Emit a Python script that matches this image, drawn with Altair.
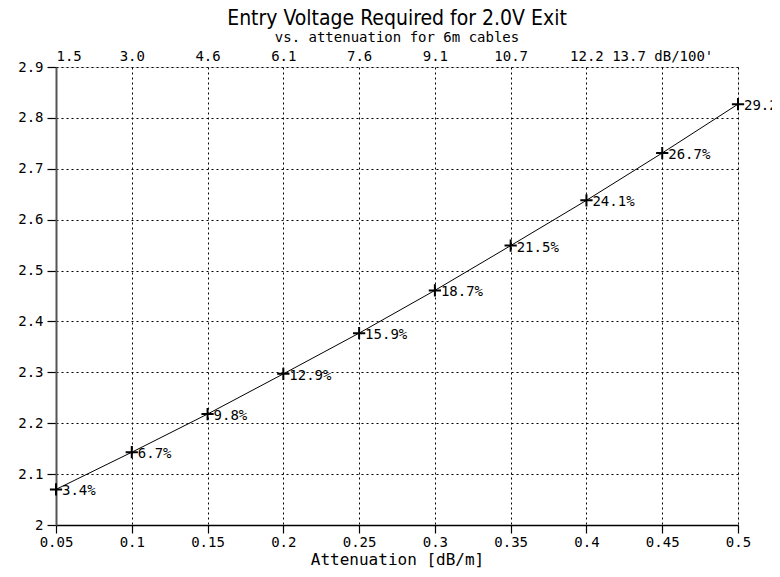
import altair as alt
import pandas as pd

# data
attenuation = [0.05, 0.10, 0.15, 0.20, 0.25, 0.30, 0.35, 0.40, 0.45, 0.50]
entry_voltage = [2.070, 2.143, 2.218, 2.297, 2.377, 2.461, 2.549, 2.638, 2.731, 2.827]
loss_labels = ["3.4%", "6.7%", "9.8%", "12.9%", "15.9%", "18.7%", "21.5%", "24.1%", "26.7%", "29.2%"]
x_ticks = [0.05, 0.10, 0.15, 0.20, 0.25, 0.30, 0.35, 0.40, 0.45, 0.50]
top_ticks = [0.05, 0.10, 0.15, 0.20, 0.25, 0.30, 0.35, 0.40, 0.45]
top_labels = ["1.5", "3.0", "4.6", "6.1", "7.6", "9.1", "10.7", "12.2", "13.7 dB/100'"]
y_ticks = [2.0, 2.1, 2.2, 2.3, 2.4, 2.5, 2.6, 2.7, 2.8, 2.9]

df = pd.DataFrame({"att": attenuation, "v": entry_voltage, "lab": loss_labels})

MONO = "DejaVu Sans Mono"
arr = "[" + ",".join("'" + s.replace("'", "\\'") + "'" for s in top_labels) + "]"
top_expr = f"{arr}[round(datum.value/0.05)-1]"

xscale = alt.Scale(domain=[0.05, 0.5], nice=False, zero=False)
yscale = alt.Scale(domain=[2.0, 2.9], nice=False, zero=False)

x_bottom = alt.X(
    "att:Q", scale=xscale,
    axis=alt.Axis(
        values=x_ticks, format="~g", title="Attenuation [dB/m]",
        orient="bottom", grid=True, gridColor="black", gridDash=[2, 3], gridWidth=1, gridOpacity=1,
        domainColor="black", domainWidth=1.5, tickColor="black", tickSize=8, tickWidth=1.2,
        labelFont=MONO, labelFontSize=14, labelColor="black", labelPadding=2, labelFlush=False,
        titleFont=MONO, titleFontSize=16, titleFontWeight="normal", titleColor="black", titlePadding=2,
    ),
)
y_axis = alt.Y(
    "v:Q", scale=yscale,
    axis=alt.Axis(
        values=y_ticks, format="~g", title=None,
        grid=True, gridColor="black", gridDash=[2, 3], gridWidth=1, gridOpacity=1,
        domainColor="#555555", domainWidth=2, tickColor="black", tickSize=9, tickWidth=1.2,
        labelFont=MONO, labelFontSize=14, labelColor="black", labelPadding=4, labelFlush=False,
    ),
)

base = alt.Chart(df)

line = base.mark_line(color="black", strokeWidth=1).encode(x=x_bottom, y=y_axis)

pts = base.mark_point(
    shape="M-1,0L1,0M0,-1L0,1", filled=False, color="black", strokeWidth=2, size=150, opacity=1
).encode(
    x=alt.X("att:Q", scale=xscale,
            axis=alt.Axis(values=top_ticks, orient="top", title=None, grid=False, domain=False,
                          ticks=False, labelExpr=top_expr, labelFont=MONO, labelFontSize=14,
                          labelColor="black", labelPadding=4, labelFlush=True)),
    y=alt.Y("v:Q", scale=yscale),
)

txt = base.mark_text(align="left", baseline="middle", dx=6, dy=2, font=MONO, fontSize=14, color="black").encode(
    x=alt.X("att:Q", scale=xscale, axis=None), y=alt.Y("v:Q", scale=yscale), text="lab:N"
)

chart = (
    alt.layer(line, pts, txt)
    .resolve_axis(x="independent")
    .properties(
        width=682, height=458,
        autosize=alt.AutoSizeParams(type="none"),
        padding={"left": 48, "top": 59, "right": 34, "bottom": 44},
        title=alt.TitleParams(
            text="Entry Voltage Required for 2.0V Exit",
            subtitle="vs. attenuation for 6m cables",
            anchor="middle", font="'Liberation Sans Narrow', 'DejaVu Sans Condensed', sans-serif",
            fontSize=21, fontWeight="normal", color="black",
            subtitleFont=MONO, subtitleFontSize=14, subtitleColor="black", subtitlePadding=2,
            offset=4,
        ),
    )
    .configure_view(stroke="black", strokeWidth=1.5)
    .configure(background="white")
)

chart.save("out.html", embed_options={"renderer": "svg", "actions": False})
